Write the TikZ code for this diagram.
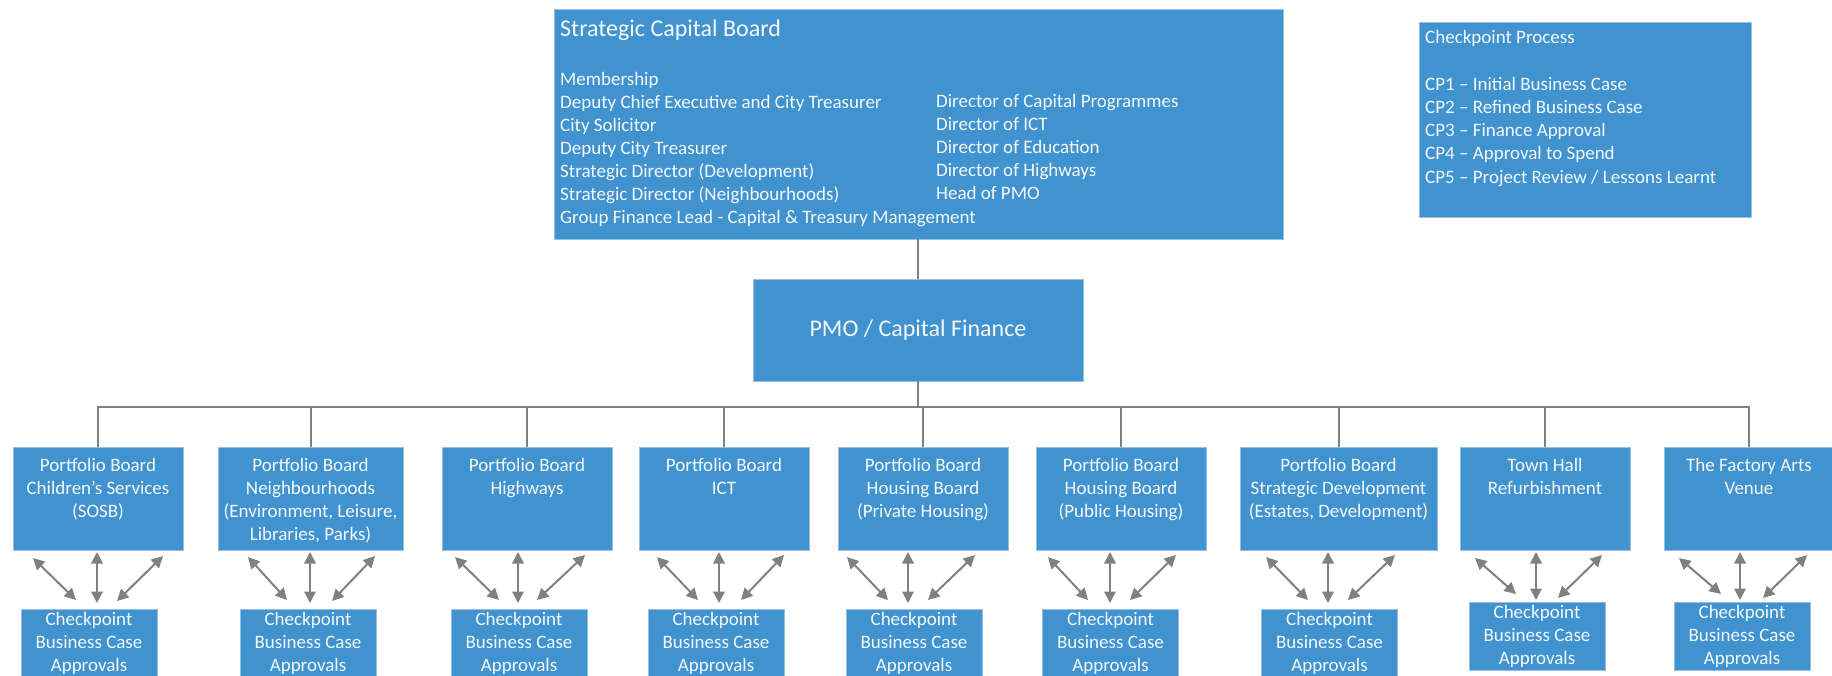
\documentclass[tikz,border=0pt]{standalone}
\usepackage{fontspec}
\setmainfont{Carlito}
\usetikzlibrary{arrows.meta,calc}
\definecolor{boxblue}{RGB}{65,147,207}
\definecolor{boxedge}{RGB}{150,192,230}
\definecolor{lnk}{RGB}{128,128,128}
\definecolor{txt}{RGB}{245,249,253}
\newcommand{\firststrut}{\rule{0pt}{15pt}}
\begin{document}
\begin{tikzpicture}[x=1pt,y=-1pt,
  box/.style={rectangle, fill=boxblue, draw=boxedge, line width=0.8pt, inner sep=0pt},
  bodytext/.style={text=txt, inner sep=0pt, font=\fontsize{19}{23}\selectfont},
  titletext/.style={text=txt, inner sep=0pt, font=\fontsize{24}{29}\selectfont},
  conn/.style={draw=lnk, line width=2pt},
  dbl/.style={draw=lnk, line width=2pt, {Triangle[length=11.5pt,width=11.5pt]}-{Triangle[length=11.5pt,width=11.5pt]}},
]
\useasboundingbox (0,0) rectangle (1832,675);
\clip (0,0) rectangle (1832,675);

% top boxes
\node[box, minimum width=729pt, minimum height=230pt] (scb) at (918.5,124) {};
\node[titletext, anchor=base west] (scbtitle) at (560,36) {Strategic Capital Board};
\node[bodytext, anchor=north west, align=left] (scbleft) at (560,70) {\firststrut Membership\\Deputy Chief Executive and City Treasurer\\City Solicitor\\Deputy City Treasurer\\Strategic Director (Development)\\Strategic Director (Neighbourhoods)\\Group Finance Lead - Capital \& Treasury Management};
\node[bodytext, anchor=north west, align=left] (scbright) at (936,92) {\firststrut Director of Capital Programmes\\Director of ICT\\Director of Education\\Director of Highways\\Head of PMO};

\node[box, minimum width=332pt, minimum height=195pt] (cpp) at (1585,119.5) {};
\node[bodytext, anchor=base west] (cpptitle) at (1425,43) {Checkpoint Process};
\node[bodytext, anchor=north west, align=left, font=\fontsize{19}{23.25}\selectfont] (cpplist) at (1425,75) {\firststrut CP1 – Initial Business Case\\CP2 – Refined Business Case\\CP3 – Finance Approval\\CP4 – Approval to Spend\\CP5 – Project Review / Lessons Learnt};

\node[box, minimum width=330pt, minimum height=102pt, text=txt, font=\fontsize{24}{29}\selectfont] (pmo) at (918,330) {PMO / Capital Finance};

% portfolio boxes
\foreach \n/\cx/\w in {1/98/170, 2/310.5/185, 3/527/170, 4/724/170, 5/923/170, 6/1121/170, 7/1338.5/197, 8/1545/170, 9/1749/170}
  \node[box, minimum width=\w pt, minimum height=103pt] (b\n) at (\cx,498.5) {};

\node[bodytext, anchor=north, align=center] (bt1) at ($(b1.north)+(0,10)$) {\firststrut Portfolio Board\\Children’s Services\\(SOSB)};
\node[bodytext, anchor=north, align=center] (bt2) at ($(b2.north)+(0,10)$) {\firststrut Portfolio Board\\Neighbourhoods\\(Environment, Leisure,\\Libraries, Parks)};
\node[bodytext, anchor=north, align=center] (bt3) at ($(b3.north)+(0,10)$) {\firststrut Portfolio Board\\Highways};
\node[bodytext, anchor=north, align=center] (bt4) at ($(b4.north)+(0,10)$) {\firststrut Portfolio Board\\ICT};
\node[bodytext, anchor=north, align=center] (bt5) at ($(b5.north)+(0,10)$) {\firststrut Portfolio Board\\Housing Board\\(Private Housing)};
\node[bodytext, anchor=north, align=center] (bt6) at ($(b6.north)+(0,10)$) {\firststrut Portfolio Board\\Housing Board\\(Public Housing)};
\node[bodytext, anchor=north, align=center] (bt7) at ($(b7.north)+(0,10)$) {\firststrut Portfolio Board\\Strategic Development\\(Estates, Development)};
\node[bodytext, anchor=north, align=center] (bt8) at ($(b8.north)+(0,10)$) {\firststrut Town Hall\\Refurbishment};
\node[bodytext, anchor=north, align=center] (bt9) at ($(b9.north)+(0,10)$) {\firststrut The Factory Arts\\Venue};

% checkpoint boxes
\foreach \n/\cx/\cy/\h in {1/89/645/72, 2/308/645/72, 3/519/645/72, 4/716/645/72, 5/914/645/72, 6/1110.5/645/72, 7/1329.5/645/72, 8/1537/636/68, 9/1742/636/68}{
  \node[box, minimum width=136pt, minimum height=\h pt] (c\n) at (\cx,\cy) {};
  \node[bodytext, anchor=north, align=center] (ct\n) at ($(c\n.north)+(0,2)$) {\firststrut Checkpoint\\Business Case\\Approvals};
}

% connectors
\coordinate (bus) at (918,407);
\draw[conn] (pmo.north |- scb.south) -- (pmo.north);
\draw[conn] (pmo.south) -- (bus);
\draw[conn] (b1.north) |- (bus) -| (b9.north);
\foreach \n in {2,...,8}
  \draw[conn] (b\n.north) -- (b\n.north |- bus);

% double arrows
\foreach \n/\lsx/\lsy/\lex/\ley/\vx/\vey/\rsx/\rsy/\rex/\rey in {
  1/33/558/76/600/97/603/163/556/117/601,
  2/248/557/287/600/310/603/375/556/332/601,
  3/455/557/499/600/518/603/585/555/537/600,
  4/657/557/698/600/719/603/784/555/741/600,
  5/847/557/888/600/908/603/975/555/928/600,
  6/1048/557/1088/600/1110/603/1176/555/1130/600,
  7/1266/557/1308/600/1328/603/1395/555/1348/600,
  8/1475/558/1516/594/1536/600/1602/555/1558/598,
  9/1679/558/1721/594/1740/600/1807/555/1763/598}{
  \coordinate (als\n) at (\lsx,\lsy);
  \coordinate (ale\n) at (\lex,\ley);
  \coordinate (avs\n) at (\vx,552);
  \coordinate (ave\n) at (\vx,\vey);
  \coordinate (ars\n) at (\rsx,\rsy);
  \coordinate (are\n) at (\rex,\rey);
  \draw[dbl] (als\n) -- (ale\n);
  \draw[dbl] (avs\n) -- (ave\n);
  \draw[dbl] (ars\n) -- (are\n);
}
\end{tikzpicture}
\end{document}
